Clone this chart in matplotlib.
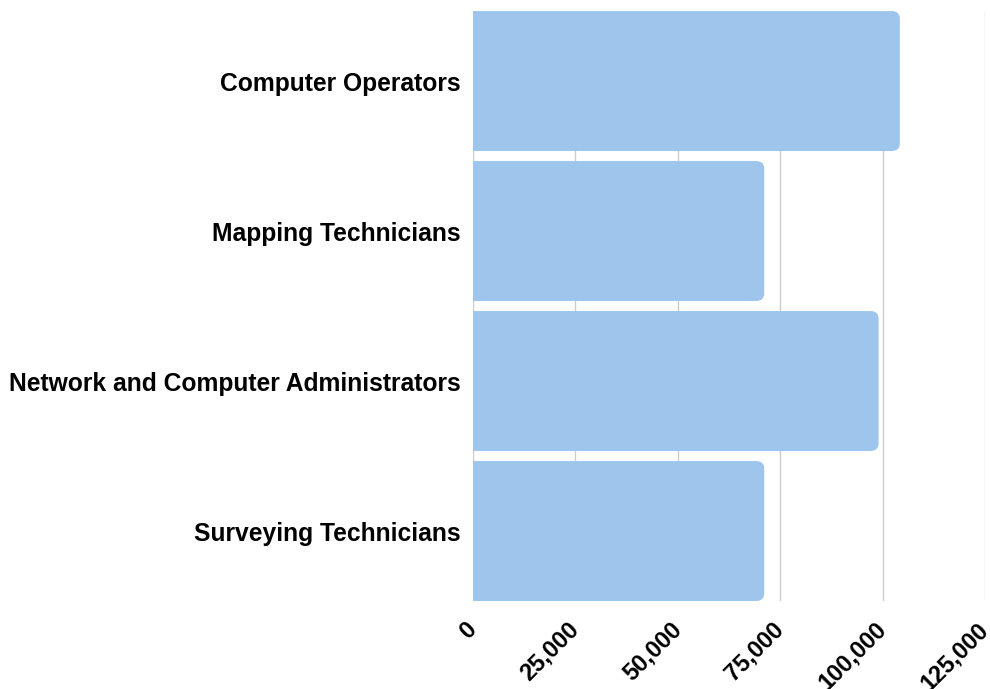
import matplotlib
matplotlib.use("Agg")
import matplotlib.pyplot as plt
from matplotlib.patches import FancyBboxPatch

# data
jobs = ["Computer Operators", "Mapping Technicians",
        "Network and Computer Administrators", "Surveying Technicians"]
values = [104200, 71100, 99000, 71100]
xticks = [0, 25000, 50000, 75000, 100000, 125000]
xticklabels = ["0", "25,000", "50,000", "75,000", "100,000", "125,000"]

plt.rcParams['font.family'] = ['Liberation Sans', 'DejaVu Sans']

fig = plt.figure(figsize=(9.9, 6.89), dpi=100)
ax = fig.add_axes([0.4778, 0.1277, 0.5172, 0.8563])

barcol = '#9ec6ec'
h = 0.933
for i, v in enumerate(values):
    # rounded right end; left end hidden past the axis
    p = FancyBboxPatch((-4000, i - h / 2), v + 4000, h,
                       boxstyle="round,pad=0,rounding_size=2000",
                       mutation_aspect=0.0000255,
                       facecolor=barcol, edgecolor='none', zorder=3)
    ax.add_patch(p)

ax.set_xlim(0, 125000)
ax.set_ylim(3.4667, -0.4667)
ax.set_yticks(range(len(jobs)))
ax.set_yticklabels(jobs, fontsize=17.7, fontweight='bold')
ax.set_xticks(xticks)
ax.set_xticklabels(xticklabels, fontsize=17, fontweight='bold',
                   rotation=45, ha='right', va='center', rotation_mode='anchor')
ax.tick_params(axis='both', length=0)
ax.tick_params(axis='y', pad=9)
ax.tick_params(axis='x', pad=18)
ax.grid(axis='x', color='#cccccc', linewidth=1, zorder=0)
ax.set_axisbelow(True)
for s in ax.spines.values():
    s.set_visible(False)

plt.savefig("out.png", dpi=100)
